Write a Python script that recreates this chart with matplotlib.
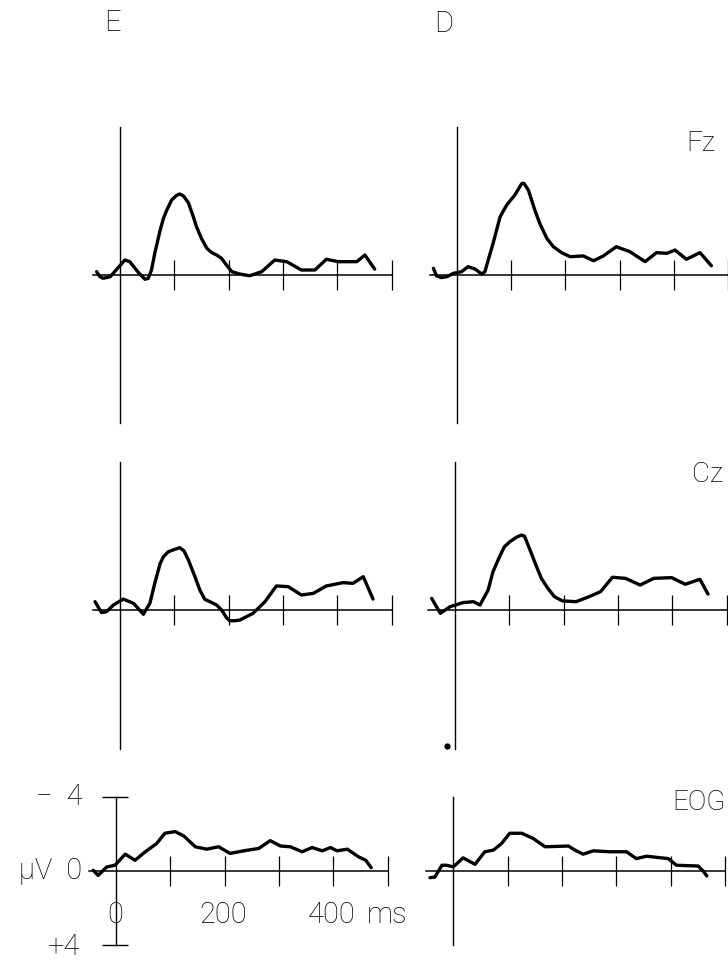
import matplotlib
matplotlib.use('Agg')
import matplotlib.pyplot as plt

plt.rcParams['font.family'] = ['Roboto', 'DejaVu Sans']

# Grand-average waveforms, latency in ms, amplitude in microvolts (negative up)
fz_e_ms = [-43, -37, -31, -18, -6, 9, 18, 34, 46, 52, 58, 64, 74, 80, 86, 95, 104,
           110, 117, 126, 135, 141, 150, 160, 169, 178, 187, 196, 206, 221, 239, 261,
           285, 307, 334, 359, 380, 402, 436, 451, 469]
fz_e_uv = [-0.18, 0.09, 0.18, 0.09, -0.31, -0.81, -0.72, -0.13, 0.23, 0.18, -0.27,
           -1.17, -2.43, -3.06, -3.5, -4.05, -4.3, -4.38, -4.27, -3.9, -3.15, -2.6,
           -1.98, -1.44, -1.21, -1.08, -0.9, -0.54, -0.18, -0.05, 0.04, -0.18, -0.81,
           -0.72, -0.27, -0.27, -0.85, -0.72, -0.72, -1.08, -0.32]

fz_d_ms = [-43, -37, -28, -18, -6, 9, 21, 34, 46, 52, 58, 67, 80, 92, 107, 120, 124,
           132, 144, 153, 166, 178, 193, 209, 233, 252, 270, 294, 319, 347, 368, 387,
           402, 423, 448, 469]
fz_d_uv = [-0.36, 0.05, 0.14, 0.09, -0.09, -0.18, -0.45, -0.32, -0.05, -0.18, -0.81,
           -1.71, -3.15, -3.78, -4.32, -4.95, -4.95, -4.59, -3.5, -2.79, -1.98, -1.53,
           -1.21, -0.99, -1.03, -0.77, -1.03, -1.53, -1.26, -0.72, -1.21, -1.17, -1.35,
           -0.85, -1.21, -0.5]

cz_e_ms = [-46, -34, -25, -12, 6, 25, 43, 55, 64, 74, 80, 89, 101, 110, 118, 126, 138,
           147, 156, 169, 178, 187, 196, 202, 212, 221, 245, 267, 288, 310, 334, 356,
           380, 411, 429, 448, 466]
cz_e_uv = [-0.45, 0.14, 0.09, -0.27, -0.59, -0.36, 0.23, -0.36, -1.44, -2.52, -2.88,
           -3.15, -3.28, -3.37, -3.19, -2.7, -1.8, -1.08, -0.58, -0.4, -0.27, 0.0,
           0.41, 0.58, 0.58, 0.54, 0.18, -0.45, -1.3, -1.26, -0.81, -0.9, -1.3, -1.48,
           -1.44, -1.8, -0.59]

cz_d_ms = [-43, -27, -9, 15, 34, 46, 61, 70, 82, 91, 101, 113, 122, 128, 137, 149,
           159, 171, 183, 198, 223, 247, 268, 290, 314, 341, 366, 399, 424, 451, 466]
cz_d_uv = [-0.63, 0.18, -0.18, -0.4, -0.45, -0.27, -1.08, -2.07, -2.88, -3.42, -3.69,
           -3.93, -4.05, -3.99, -3.33, -2.43, -1.71, -1.17, -0.72, -0.49, -0.45, -0.72,
           -0.99, -1.77, -1.71, -1.35, -1.71, -1.75, -1.39, -1.66, -0.86]

eog_e_ms = [-42, -33, -17, -2, 17, 35, 54, 75, 90, 109, 125, 146, 167, 189, 210, 235,
            263, 284, 303, 321, 343, 361, 380, 395, 407, 426, 447, 460, 470]
eog_e_uv = [-0.04, 0.24, -0.22, -0.31, -0.91, -0.58, -1.04, -1.49, -2.04, -2.13, -1.89,
            -1.31, -1.18, -1.31, -0.95, -1.09, -1.22, -1.64, -1.35, -1.31, -1.04, -1.27,
            -1.09, -1.27, -1.09, -1.18, -0.76, -0.58, -0.18]

eog_d_ms = [-43, -34, -21, -12, 0, 18, 40, 58, 74, 89, 104, 126, 147, 169, 212, 224,
            239, 258, 288, 319, 337, 356, 377, 396, 411, 451, 460, 467]
eog_d_uv = [0.36, 0.33, -0.31, -0.31, -0.22, -0.71, -0.36, -1.04, -1.13, -1.49, -2.04,
            -2.04, -1.76, -1.31, -1.35, -1.13, -0.91, -1.09, -1.04, -1.04, -0.67, -0.8,
            -0.73, -0.67, -0.31, -0.27, 0.0, 0.27]

time_ticks = [100, 200, 300, 400, 500]

W, H = 728, 961
PX_MS = 0.543   # pixels per ms
PX_UV = 18.5    # pixels per microvolt
XLIM = (-70, 520)

fig = plt.figure(figsize=(W / 100, H / 100), dpi=100)


def make_axes(x0, y0, ylim):
    # x0, y0: pixel position of the (0 ms, 0 uV) origin
    left = x0 + XLIM[0] * PX_MS
    width = (XLIM[1] - XLIM[0]) * PX_MS
    top = y0 - ylim * PX_UV
    height = 2 * ylim * PX_UV
    ax = fig.add_axes([left / W, 1 - (top + height) / H, width / W, height / H])
    ax.set_xlim(*XLIM)
    ax.set_ylim(ylim, -ylim)
    ax.axis('off')
    return ax


def draw_panel(ax, t, v, y_up, y_down):
    ax.plot([-50, 500], [0, 0], color='black', lw=1.1)
    ax.plot([0, 0], [-y_up, y_down], color='black', lw=1.0)
    ax.vlines(time_ticks, -0.8, 0.8, color='black', lw=0.9)
    ax.plot(t, v, color='black', lw=2.4, solid_joinstyle='round',
            solid_capstyle='round')


ax_fz_e = make_axes(120, 275, 9)
draw_panel(ax_fz_e, fz_e_ms, fz_e_uv, 8, 8)
ax_fz_d = make_axes(456.7, 275, 9)
draw_panel(ax_fz_d, fz_d_ms, fz_d_uv, 8, 8)

ax_cz_e = make_axes(120, 610, 9)
draw_panel(ax_cz_e, cz_e_ms, cz_e_uv, 8, 7.5)
ax_cz_d = make_axes(455, 610, 9)
draw_panel(ax_cz_d, cz_d_ms, cz_d_uv, 8, 7.5)
ax_cz_d.plot([-15], [7.35], 'o', color='black', ms=3.5)

ax_eog_e = make_axes(116, 871, 5)
draw_panel(ax_eog_e, eog_e_ms, eog_e_uv, 4, 4)
ax_eog_e.hlines([-4, 4], -25, 22, color='black', lw=1.0)
ax_eog_d = make_axes(453.3, 871, 5)
draw_panel(ax_eog_d, eog_d_ms, eog_d_uv, 4, 4)

# electrode labels
lab = dict(fontsize=20, fontweight='light', ha='center', va='center')
ax_fz_d.text(450, -7.1, 'Fz', **lab)
ax_cz_d.text(466, -7.35, 'Cz', **lab)
ax_eog_d.text(452, -3.7, 'EOG', **lab)

# calibration labels
cal = dict(fontsize=21, fontweight='light', va='center')
ax_eog_e.text(-62, -4.0, '\u2212  4', ha='right', **cal)
ax_eog_e.text(-62, 0.0, '\u03bcV  0', ha='right', **cal)
ax_eog_e.text(-66, 4.1, '+4', ha='right', **cal)
ax_eog_e.text(-2, 2.4, '0', ha='center', **cal)
ax_eog_e.text(197, 2.4, '200', ha='center', **cal)
ax_eog_e.text(398, 2.4, '400', ha='center', **cal)
ax_eog_e.text(462, 2.4, 'ms', ha='left', **cal)

# condition headers
fig.text(112 / W, 1 - 23 / H, 'E', fontsize=21, fontweight='light',
         ha='center', va='center')
fig.text(444 / W, 1 - 24 / H, 'D', fontsize=21, fontweight='light',
         ha='center', va='center')

fig.savefig('out.png', dpi=100, facecolor='white')
